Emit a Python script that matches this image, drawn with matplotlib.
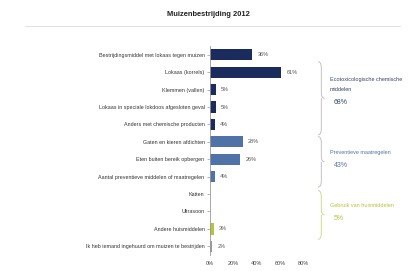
import numpy as np
import matplotlib
matplotlib.use("Agg")
import matplotlib.pyplot as plt
from matplotlib.path import Path
from matplotlib.patches import PathPatch
import matplotlib.transforms as mtransforms

plt.rcParams['font.family'] = ['Liberation Sans', 'DejaVu Sans']

# data
labels = [
    "Bestrijdingsmiddel met lokaas tegen muizen",
    "Lokaas (korrels)",
    "Klemmen (vallen)",
    "Lokaas in speciale lokdoos afgesloten geval",
    "Anders met chemische producten",
    "Gaten en kieren afdichten",
    "Eten buiten bereik opbergen",
    "Aantal preventieve middelen of maatregelen",
    "Katten",
    "Ultrasoon",
    "Andere huismiddelen",
    "Ik heb iemand ingehuurd om muizen te bestrijden",
]
values = [36, 61, 5, 5, 4, 28, 26, 4, 0, 0, 3, 2]
bar_colors = ["#1b2b5e"] * 5 + ["#4f73a6"] * 3 + ["#b5c43a"] * 3 + ["#9a9a9a"]
xticks = [0, 20, 40, 60, 80]

groups = [
    # (from row, to row, label lines, total, colour)
    (0.4, 4.6, ["Ecotoxicologische chemische", "middelen"], "68%", "#34466f"),
    (4.7, 7.6, ["Preventieve maatregelen"], "43%", "#5576a8"),
    (7.8, 10.6, ["Gebruik van huismiddelen"], "5%", "#b5c43a"),
]

fig = plt.figure(figsize=(4.17, 2.71), dpi=100)
ax = fig.add_axes([0.504, 0.059, 0.223, 0.771])

y = np.arange(len(labels))
ax.barh(y, values, height=0.65, color=bar_colors)
for yi, v in zip(y, values):
    if v > 0:
        ax.text(v + 4.5, yi, f"{v}%", va='center', ha='left', fontsize=4, color='#555555')

ax.set_yticks(y)
ax.set_yticklabels(labels, fontsize=3.9, color='#333333')
ax.set_ylim(11.5, -0.5)
ax.set_xlim(0, 80)
ax.set_xticks(xticks)
ax.set_xticklabels([f"{t}%" for t in xticks], fontsize=4, color='#444444')
ax.tick_params(axis='x', length=0, pad=4)
ax.tick_params(axis='y', length=2, width=0.5, color='#999999', pad=2)
for s in ['top', 'right', 'bottom']:
    ax.spines[s].set_visible(False)
ax.spines['left'].set_color('#999999')
ax.spines['left'].set_linewidth(0.6)

# braces with group labels
trans = mtransforms.blended_transform_factory(ax.transAxes, ax.transData)


def brace(y0, y1, x, w, color):
    ym = (y0 + y1) / 2
    d = 0.35
    verts = [(x, y0), (x + w / 2, y0), (x + w / 2, y0 + d),
             (x + w / 2, ym - d),
             (x + w / 2, ym), (x + w, ym),
             (x + w / 2, ym), (x + w / 2, ym + d),
             (x + w / 2, y1 - d),
             (x + w / 2, y1), (x, y1)]
    codes = [Path.MOVETO, Path.CURVE3, Path.CURVE3, Path.LINETO,
             Path.CURVE3, Path.CURVE3, Path.MOVETO, Path.CURVE3,
             Path.LINETO, Path.CURVE3, Path.CURVE3]
    ax.add_patch(PathPatch(Path(verts, codes), transform=trans, fill=False,
                           edgecolor=color, lw=0.6, clip_on=False))


for y0, y1, lines, total, col in groups:
    brace_col = '#b9b9b9' if col != "#b5c43a" else '#cbd47a'
    brace(y0, y1, 1.16, 0.07, brace_col)
    ym = (y0 + y1) / 2
    ty = ym - 0.55 * len(lines)
    for ln in lines:
        ax.text(1.29, ty, ln, transform=trans, fontsize=4, color=col, va='center', ha='left')
        ty += 0.6
    ax.text(1.33, ty + 0.15, total, transform=trans, fontsize=5, color=col, va='center', ha='left')

fig.text(0.5, 0.945, "Muizenbestrijding 2012", ha='center', va='center',
         fontsize=5.4, fontweight='bold', color='#222222')
fig.add_artist(plt.Line2D([0.06, 0.96], [0.905, 0.905], color='#e2e2e2', lw=0.7))

fig.savefig("out.png", dpi=100)
